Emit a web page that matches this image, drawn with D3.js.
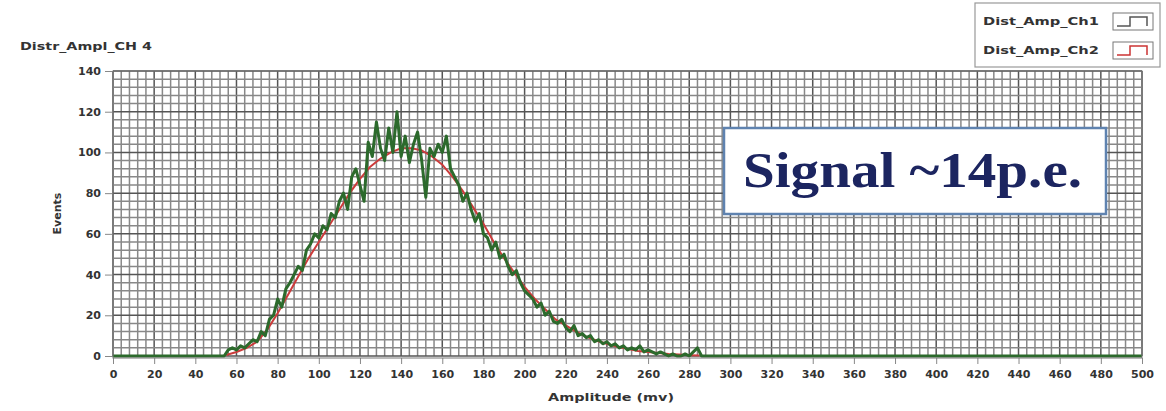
<!DOCTYPE html>
<html>
<head>
<meta charset="utf-8">
<script src="https://cdn.jsdelivr.net/npm/d3@7"></script>
<style>
  body { margin: 0; background: #fff; }
  text { font-family: "DejaVu Sans", Verdana, sans-serif; }
  text.serif { font-family: "Liberation Serif", "Times New Roman", serif; }
</style>
</head>
<body>
<div id="chart"></div>
<script>
// measured counts per 2 mv bin, starting at 54 mv (Ch1, green trace)
const ch1Start = 54;
const ch1 = [
  0, 3, 4, 3, 5, 4, 6, 8, 7, 12,
  10, 18, 20, 28, 24, 33, 36, 40, 44, 42,
  52, 55, 60, 58, 64, 62, 70, 68, 76, 80,
  72, 88, 92, 84, 76, 105, 98, 115, 102, 96,
  112, 100, 120, 98, 108, 95, 104, 110, 96, 78,
  102, 98, 104, 100, 108, 92, 88, 84, 76, 80,
  72, 66, 70, 60, 58, 52, 56, 48, 50, 44,
  40, 42, 36, 32, 30, 28, 24, 26, 20, 22,
  17, 16, 18, 14, 12, 15, 10, 11, 9, 10,
  7, 8, 6, 7, 5, 6, 4, 5, 3, 4,
  3, 5, 2, 3, 2, 1, 2, 1, 0, 1,
  0, 0, 1, 0, 2, 4, 0, 0
];

// smooth red trace (Ch2), every 5 mv from 55 mv
const ch2Start = 55;
const ch2 = [
  0.5, 2, 4, 7, 13, 21, 30, 39, 48, 56,
  64, 72, 80, 87, 93, 97, 100, 102, 102, 101,
  98, 94, 88, 81, 73, 65, 56, 48, 41, 34,
  28, 23, 18, 15, 12, 9.5, 7.5, 6, 4.5, 3.5,
  2.5, 2, 1.5, 1, 0.7, 0.4, 0.2
];

const xTicks = [0, 20, 40, 60, 80, 100, 120, 140, 160, 180, 200, 220, 240, 260, 280,
                300, 320, 340, 360, 380, 400, 420, 440, 460, 480, 500];
const yTicks = [0, 20, 40, 60, 80, 100, 120, 140];
const seriesNames = ["Dist_Amp_Ch1", "Dist_Amp_Ch2"];

// dimensions
const W = 1166, H = 411;
const margin = { top: 71, right: 24, bottom: 55, left: 113 },
      width = W - margin.left - margin.right,
      height = H - margin.top - margin.bottom;

const svg = d3.select("#chart")
  .append("svg")
    .attr("width", W)
    .attr("height", H);

const g = svg.append("g")
    .attr("transform", `translate(${margin.left},${margin.top})`);

// scales
const x = d3.scaleLinear().domain([0, 500]).range([0, width]);
const y = d3.scaleLinear().domain([0, 140]).range([height, 0]);

// fine grid (every 4 units), darker at labelled ticks
g.append("g")
  .selectAll("line")
  .data(d3.range(0, 501, 4))
  .join("line")
    .attr("x1", d => x(d)).attr("x2", d => x(d))
    .attr("y1", 0).attr("y2", height)
    .attr("stroke", d => d % 20 === 0 ? "#555" : "#888")
    .attr("stroke-width", 1.5);

g.append("g")
  .selectAll("line")
  .data(d3.range(0, 141, 4))
  .join("line")
    .attr("x1", 0).attr("x2", width)
    .attr("y1", d => y(d)).attr("y2", d => y(d))
    .attr("stroke", d => d % 20 === 0 ? "#555" : "#888")
    .attr("stroke-width", 1.5);

// axes
const xAxis = g.append("g")
    .attr("transform", `translate(0,${height + 2})`)
    .call(d3.axisBottom(x).tickValues(xTicks).tickSize(6).tickPadding(6));

const yAxis = g.append("g")
    .call(d3.axisLeft(y).tickValues(yTicks).tickSize(8).tickPadding(4));

[xAxis, yAxis].forEach(a => {
  a.select(".domain").remove();
  a.selectAll(".tick line").attr("stroke", "#888");
  a.selectAll("text")
    .attr("fill", "#333")
    .attr("font-size", "11px")
    .attr("font-weight", "bold");
});

// data series
const ch1Points = [[0, 0]].concat(ch1.map((v, i) => [ch1Start + 2 * i, v]), [[500, 0]]);
const ch2Points = ch2.map((v, i) => [ch2Start + 5 * i, v]);

const line = d3.line()
    .x(d => x(d[0]))
    .y(d => y(d[1]));

g.append("path")
    .datum(ch2Points)
    .attr("fill", "none")
    .attr("stroke", "#cc3b3b")
    .attr("stroke-width", 2)
    .attr("d", line);

g.append("path")
    .datum(ch1Points)
    .attr("fill", "none")
    .attr("stroke", "#2c6a2c")
    .attr("stroke-width", 3)
    .attr("stroke-linejoin", "round")
    .attr("d", line);

// plot border
g.append("rect")
    .attr("width", width)
    .attr("height", height + 2)
    .attr("fill", "none")
    .attr("stroke", "#777")
    .attr("stroke-width", 1);

// titles
svg.append("text")
    .attr("x", 20).attr("y", 50)
    .attr("font-size", "11px")
    .attr("font-weight", "bold")
    .attr("fill", "#333")
    .attr("textLength", 132)
    .attr("lengthAdjust", "spacingAndGlyphs")
    .text("Distr_Ampl_CH 4");

svg.append("text")
    .attr("transform", `translate(61,${margin.top + height / 2}) rotate(-90)`)
    .attr("text-anchor", "middle")
    .attr("font-size", "11px")
    .attr("font-weight", "bold")
    .attr("fill", "#333")
    .text("Events");

svg.append("text")
    .attr("x", margin.left + x(242)).attr("y", 401)
    .attr("text-anchor", "middle")
    .attr("font-size", "11px")
    .attr("font-weight", "bold")
    .attr("fill", "#333")
    .attr("textLength", 126)
    .attr("lengthAdjust", "spacingAndGlyphs")
    .text("Amplitude (mv)");

// legend
const legend = svg.append("g").attr("transform", "translate(975,3)");
legend.append("rect")
    .attr("width", 185).attr("height", 64)
    .attr("fill", "#fff")
    .attr("stroke", "#999")
    .attr("stroke-width", 1.2);

const legendColors = ["#555", "#c33"];
seriesNames.forEach((name, i) => {
  const row = legend.append("g").attr("transform", `translate(0,${10 + i * 29})`);
  row.append("text")
      .attr("x", 8).attr("y", 12)
      .attr("font-size", "10px")
      .attr("font-weight", "bold")
      .attr("fill", "#333")
      .attr("textLength", 116)
      .attr("lengthAdjust", "spacingAndGlyphs")
      .text(name);
  row.append("rect")
      .attr("x", 138).attr("y", 0)
      .attr("width", 40).attr("height", 17)
      .attr("fill", "#fff")
      .attr("stroke", "#777");
  row.append("path")
      .attr("d", "M142,13 H155 V4 H172 V13")
      .attr("fill", "none")
      .attr("stroke", legendColors[i])
      .attr("stroke-width", 1.5);
});

// annotation box
const note = svg.append("g");
note.append("rect")
    .attr("x", 724).attr("y", 128)
    .attr("width", 382).attr("height", 86)
    .attr("fill", "#fff")
    .attr("stroke", "#5f83b0")
    .attr("stroke-width", 2.5);
note.append("text")
    .attr("class", "serif")
    .attr("x", 743).attr("y", 187)
    .attr("font-size", "50px")
    .attr("font-weight", "bold")
    .attr("fill", "#1c2560")
    .attr("textLength", 339)
    .attr("lengthAdjust", "spacingAndGlyphs")
    .text("Signal ~14p.e.");
</script>
</body>
</html>
